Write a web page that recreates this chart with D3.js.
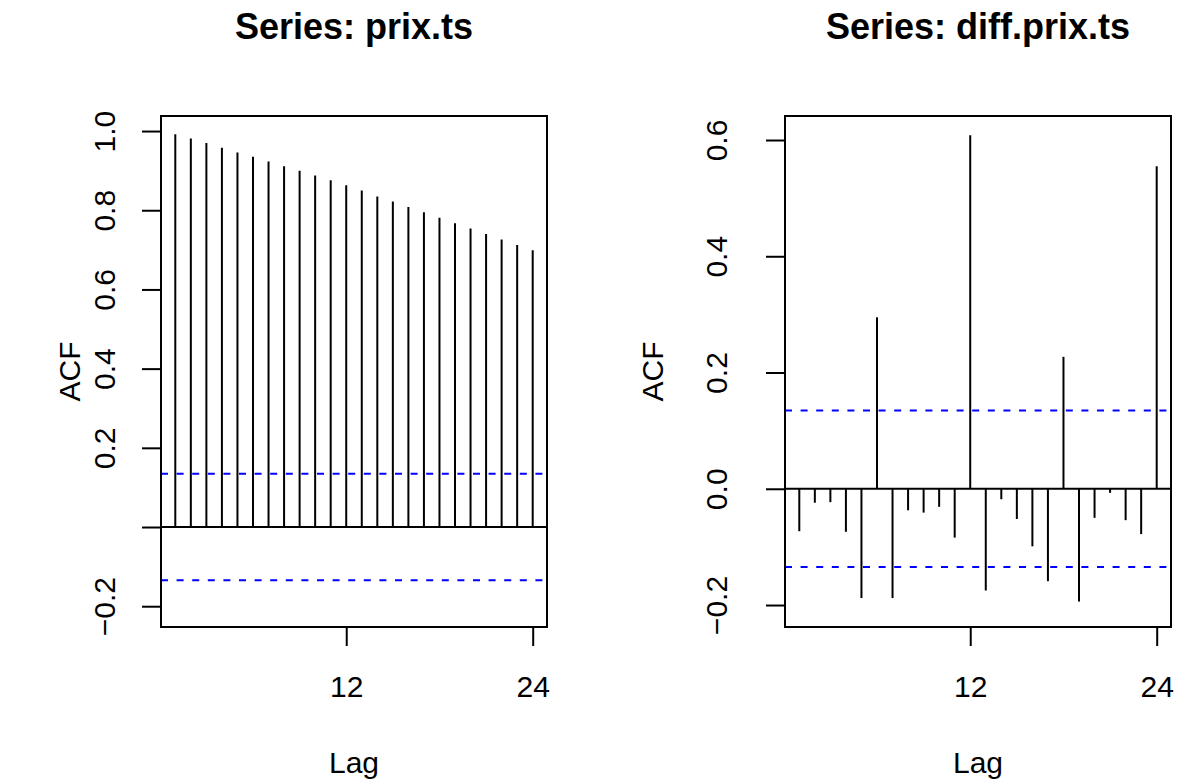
<!DOCTYPE html>
<html>
<head>
<meta charset="utf-8">
<script src="https://cdn.jsdelivr.net/npm/d3@7"></script>
<style>
  html, body { margin: 0; padding: 0; background: #fff; }
  svg { display: block; }
  text { font-family: "Liberation Sans", Arial, Helvetica, sans-serif; fill: #000; }
</style>
</head>
<body>
<svg id="chart" width="1179" height="782"></svg>
<script>
// ---- data ----
const lags = d3.range(1, 25);
const acfPrix = [0.992, 0.981, 0.970, 0.958, 0.946, 0.935, 0.923, 0.911, 0.900, 0.888, 0.876, 0.863,
                 0.850, 0.835, 0.822, 0.808, 0.795, 0.781, 0.767, 0.754, 0.740, 0.726, 0.712, 0.699];
const acfDiff = [-0.073, -0.024, -0.023, -0.074, -0.188, 0.295, -0.188, -0.037, -0.041, -0.031, -0.084, 0.608,
                 -0.175, -0.018, -0.052, -0.099, -0.159, 0.227, -0.194, -0.050, -0.007, -0.054, -0.078, 0.555];
const confLimit = 0.1345;
const xTicks = [12, 24];
const yTicksPrix = [-0.2, 0.0, 0.2, 0.4, 0.6, 0.8, 1.0];
const yLabelsPrix = ["−0.2", "", "0.2", "0.4", "0.6", "0.8", "1.0"];
const yTicksDiff = [-0.2, 0.0, 0.2, 0.4, 0.6];
const yLabelsDiff = ["−0.2", "0.0", "0.2", "0.4", "0.6"];
const titles = ["Series: prix.ts", "Series: diff.prix.ts"];

const svg = d3.select("#chart");

function panel(opts) {
  const { left, right, top, bottom, yDomain, values, yTicks, yLabels, title, labOff, ylabOff } = opts;
  const x = d3.scaleLinear().domain([0.08, 24.92]).range([left, right]);
  const y = d3.scaleLinear().domain(yDomain).range([bottom, top]);
  const g = svg.append("g");
  const cx = (left + right) / 2;

  // title
  g.append("text").attr("x", cx).attr("y", 39).attr("text-anchor", "middle")
    .style("font-size", "36px").style("font-weight", "bold").text(title);

  // zero line
  g.append("line").attr("x1", left).attr("x2", right)
    .attr("y1", y(0)).attr("y2", y(0))
    .attr("stroke", "#000").attr("stroke-width", 2);

  // bars
  g.selectAll("line.bar").data(lags).enter().append("line")
    .attr("class", "bar")
    .attr("x1", d => x(d)).attr("x2", d => x(d))
    .attr("y1", y(0)).attr("y2", (d, i) => y(values[i]))
    .attr("stroke", "#000").attr("stroke-width", 2);

  // confidence lines
  [confLimit, -confLimit].forEach(c => {
    g.append("line").attr("x1", left).attr("x2", right)
      .attr("y1", y(c)).attr("y2", y(c))
      .attr("stroke", "#0000ff").attr("stroke-width", 2)
      .attr("stroke-dasharray", "7,8.6");
  });

  // box
  g.append("rect").attr("x", left).attr("y", top)
    .attr("width", right - left).attr("height", bottom - top)
    .attr("fill", "none").attr("stroke", "#000").attr("stroke-width", 2);

  // x axis
  const xa = g.append("g").attr("transform", `translate(0,${bottom})`)
    .call(d3.axisBottom(x).tickValues(xTicks).tickSize(19).tickFormat(d3.format("d")));
  xa.select(".domain").remove();
  xa.selectAll(".tick line").attr("stroke", "#000").attr("stroke-width", 2);
  xa.selectAll(".tick text").attr("y", 70).attr("dy", null)
    .style("font-size", "30px").attr("font-family", null);

  // y axis
  const ya = g.append("g").attr("transform", `translate(${left},0)`)
    .call(d3.axisLeft(y).tickValues(yTicks).tickSize(19)
      .tickFormat((d, i) => yLabels[i]));
  ya.select(".domain").remove();
  ya.selectAll(".tick line").attr("stroke", "#000").attr("stroke-width", 2);
  ya.selectAll(".tick text")
    .attr("x", null).attr("dy", null)
    .attr("text-anchor", "middle")
    .attr("transform", `translate(${-labOff},0) rotate(-90)`)
    .style("font-size", "30px");

  // axis titles
  g.append("text").attr("x", cx).attr("y", 773).attr("text-anchor", "middle")
    .style("font-size", "30px").text("Lag");
  g.append("text")
    .attr("transform", `translate(${left - ylabOff},${(top + bottom) / 2}) rotate(-90)`)
    .attr("text-anchor", "middle").style("font-size", "30px").text("ACF");
}

panel({ left: 161, right: 547, top: 116, bottom: 627, yDomain: [-0.2525, 1.038],
        values: acfPrix, yTicks: yTicksPrix, yLabels: yLabelsPrix, title: titles[0],
        labOff: 46, ylabOff: 81 });
panel({ left: 785, right: 1171, top: 116, bottom: 627, yDomain: [-0.2378, 0.6413],
        values: acfDiff, yTicks: yTicksDiff, yLabels: yLabelsDiff, title: titles[1],
        labOff: 58, ylabOff: 122 });
</script>
</body>
</html>
